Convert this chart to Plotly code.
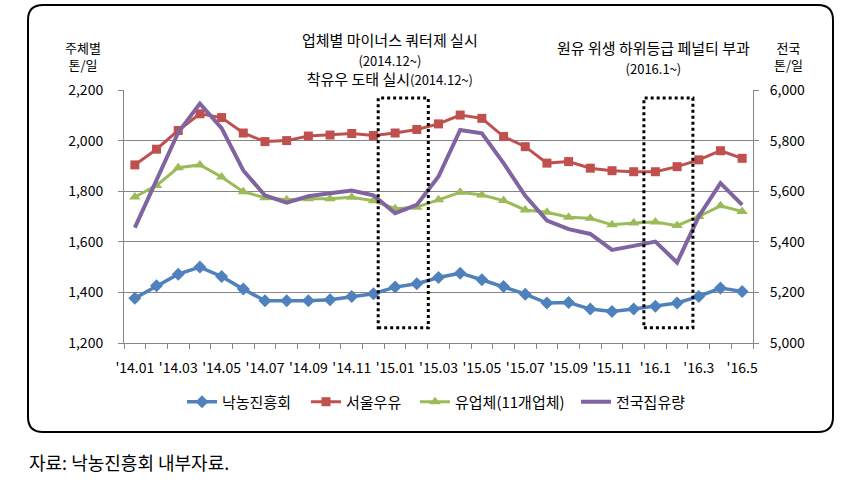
import plotly.graph_objects as go

months = ["2014.01", "2014.02", "2014.03", "2014.04", "2014.05", "2014.06",
          "2014.07", "2014.08", "2014.09", "2014.10", "2014.11", "2014.12",
          "2015.01", "2015.02", "2015.03", "2015.04", "2015.05", "2015.06",
          "2015.07", "2015.08", "2015.09", "2015.10", "2015.11", "2015.12",
          "2016.01", "2016.02", "2016.03", "2016.04", "2016.05"]
tick_labels = ["'14.01", "'14.03", "'14.05", "'14.07", "'14.09", "'14.11", "'15.01",
               "'15.03", "'15.05", "'15.07", "'15.09", "'15.11", "'16.1", "'16.3", "'16.5"]

nonghyup = [1377, 1426, 1472, 1500, 1463, 1413, 1367, 1367, 1367, 1371, 1384, 1395,
            1421, 1434, 1459, 1476, 1450, 1423, 1393, 1358, 1360, 1334, 1325, 1334,
            1345, 1358, 1384, 1417, 1404]
seoul = [1904, 1966, 2040, 2106, 2091, 2030, 1996, 2000, 2018, 2022, 2028, 2020,
         2030, 2044, 2066, 2101, 2088, 2016, 1976, 1911, 1917, 1891, 1881, 1877,
         1877, 1897, 1924, 1960, 1930]
dairy11 = [1777, 1823, 1893, 1904, 1856, 1798, 1774, 1766, 1770, 1770, 1776, 1762,
           1731, 1737, 1766, 1796, 1785, 1763, 1726, 1717, 1697, 1693, 1667, 1674,
           1678, 1664, 1700, 1742, 1720]
national = [5456, 5640, 5832, 5946, 5849, 5682, 5583, 5555, 5580, 5592, 5603, 5584,
            5513, 5546, 5658, 5842, 5829, 5711, 5582, 5484, 5450, 5431, 5368, 5384,
            5401, 5318, 5500, 5632, 5546]

series_names = ["낙농진흥회", "서울우유", "유업체(11개업체)", "전국집유량"]
left_ticks = [1200, 1400, 1600, 1800, 2000, 2200]
right_ticks = [5000, 5200, 5400, 5600, 5800, 6000]

FONT = "Noto Sans CJK KR, Malgun Gothic, sans-serif"
x = list(range(len(months)))

L, R, T, B = 124, 753, 90, 343
W, H = R - L, B - T


def px(p):
    return (p - L) / W


def py(p):
    return (B - p) / H


fig = go.Figure()
fig.add_trace(go.Scatter(x=x, y=nonghyup, name=series_names[0], mode="lines+markers",
                         line=dict(color="#4F81BD", width=3.5), legend="legend",
                         marker=dict(symbol="diamond", size=10, color="#4F81BD")))
fig.add_trace(go.Scatter(x=x, y=seoul, name=series_names[1], mode="lines+markers",
                         line=dict(color="#C0504D", width=3), legend="legend2",
                         marker=dict(symbol="square", size=9, color="#C0504D")))
fig.add_trace(go.Scatter(x=x, y=dairy11, name=series_names[2], mode="lines+markers",
                         line=dict(color="#9BBB59", width=3), legend="legend3",
                         marker=dict(symbol="triangle-up", size=10, color="#9BBB59")))
fig.add_trace(go.Scatter(x=x, y=national, name=series_names[3], mode="lines",
                         line=dict(color="#8064A2", width=4), yaxis="y2",
                         legend="legend4"))

# outer rounded frame
l0, r0, t0, b0 = px(28), px(833), py(5), py(432)
rx, ry = 15 / W, 15 / H
frame = (f"M {l0+rx},{t0} L {r0-rx},{t0} Q {r0},{t0} {r0},{t0-ry} "
         f"L {r0},{b0+ry} Q {r0},{b0} {r0-rx},{b0} L {l0+rx},{b0} "
         f"Q {l0},{b0} {l0},{b0+ry} L {l0},{t0-ry} Q {l0},{t0} {l0+rx},{t0} Z")
shapes = [dict(type="path", xref="paper", yref="paper", path=frame,
               line=dict(color="#000000", width=2), layer="below")]
# dotted highlight boxes
for x0, x1 in [(11.22, 13.53), (23.47, 25.73)]:
    shapes.append(dict(type="rect", xref="x", yref="y", x0=x0, x1=x1, y0=1260, y1=2168,
                       line=dict(color="#000000", width=3, dash="dot")))

annotations = []


def add_text(text, xp, yp, size=14, anchor="center"):
    annotations.append(dict(text=text, xref="paper", yref="paper", x=px(xp), y=py(yp),
                            xanchor=anchor, yanchor="middle", showarrow=False,
                            font=dict(family=FONT, size=size, color="#000000")))


add_text("주체별<br>톤/일", 83, 56, size=13)
add_text("전국<br>톤/일", 788, 56, size=13)
add_text("업체별 마이너스 쿼터제 실시<br><span style='font-size:13px'>(2014.12~)</span>"
         "<br>착유우 도태 실시<span style='font-size:13px'>(2014.12~)</span>",
         390, 59, size=15)
add_text("원유 위생 하위등급 페널티 부과<br><span style='font-size:13px'>(2016.1~)</span>",
         653, 57, size=15)
add_text("자료: 낙농진흥회 내부자료.", 27, 462, size=18, anchor="left")

legend_common = dict(orientation="h", xanchor="left", yanchor="middle", y=py(402),
                     font=dict(family=FONT, size=15, color="#000000"),
                     itemwidth=30, bgcolor="rgba(0,0,0,0)")
legend_x = [182, 306, 415, 576]

fig.update_layout(
    width=860, height=480,
    margin=dict(l=L, r=860 - R, t=T, b=480 - B),
    paper_bgcolor="white", plot_bgcolor="white",
    font=dict(family=FONT, size=14, color="#000000"),
    showlegend=True,
    legend=dict(x=px(legend_x[0]), **legend_common),
    legend2=dict(x=px(legend_x[1]), **legend_common),
    legend3=dict(x=px(legend_x[2]), **legend_common),
    legend4=dict(x=px(legend_x[3]), **legend_common),
    xaxis=dict(range=[-0.5, len(months) - 0.5], tickmode="array",
               tickvals=x[::2], ticktext=tick_labels, ticks="", showgrid=False,
               zeroline=False, showline=True, linecolor="#868686", linewidth=1,
               ticklabelstandoff=12, tickfont=dict(size=14),
               minor=dict(tick0=-0.5, dtick=1, ticks="outside", ticklen=5,
                          tickcolor="#868686", showgrid=False)),
    yaxis=dict(range=[1200, 2200], tickmode="array", tickvals=left_ticks,
               ticktext=[f"{v:,}" for v in left_ticks], showgrid=True,
               gridcolor="#868686", gridwidth=1, zeroline=False, showline=True,
               linecolor="#868686", ticks="outside", ticklen=5, tickcolor="#868686",
               ticklabelstandoff=12, tickfont=dict(size=14)),
    yaxis2=dict(range=[5000, 6000], overlaying="y", side="right", tickmode="array",
                tickvals=right_ticks, ticktext=[f"{v:,}" for v in right_ticks],
                showgrid=False, zeroline=False, showline=True, linecolor="#868686",
                ticks="outside", ticklen=5, tickcolor="#868686", ticklabelstandoff=8,
                tickfont=dict(size=14)),
    shapes=shapes,
    annotations=annotations,
)

fig.write_html("out.html", config={"displayModeBar": False},
               post_script="document.body.style.margin='0';document.body.style.padding='0';")
